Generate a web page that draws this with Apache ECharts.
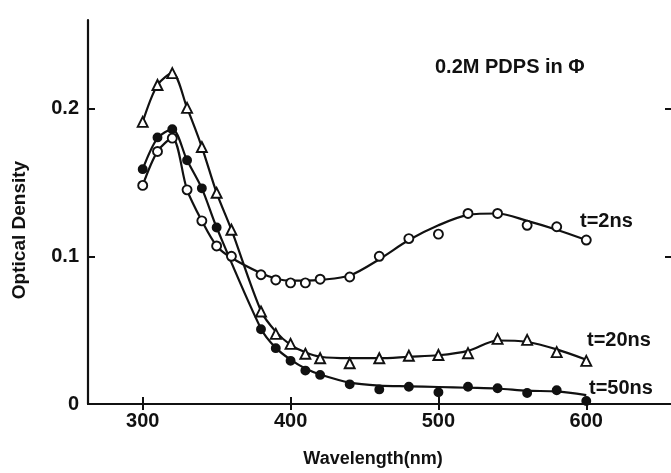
<!DOCTYPE html>
<html>
<head>
<meta charset="utf-8">
<script src="https://cdn.jsdelivr.net/npm/echarts@6/dist/echarts.min.js"></script>
<style>html,body{margin:0;padding:0;background:#fff}#c{width:671px;height:473px}</style>
</head>
<body>
<div id="c"></div>
<script>
// ---- data ----
var xTicks = [300, 400, 500, 600];
var yTicks = [0, 0.1, 0.2];

// t = 2 ns (open circles)
var wl2 = [300,310,320,330,340,350,360,380,390,400,410,420,440,460,480,500,520,540,560,580,600];
var od2 = [0.148,0.171,0.180,0.145,0.124,0.107,0.100,0.0875,0.084,0.082,0.082,0.0845,0.086,0.100,0.112,0.115,0.129,0.129,0.121,0.120,0.111];
var fit2 = [0.148,0.171,0.180,0.145,0.124,0.107,0.099,0.0885,0.085,0.0835,0.0835,0.084,0.087,0.098,0.111,0.121,0.128,0.129,0.124,0.118,0.111];

// t = 20 ns (open triangles)
var wl20 = [300,310,320,330,340,350,360,380,390,400,410,420,440,460,480,500,520,540,560,580,600];
var od20 = [0.191,0.216,0.224,0.2005,0.174,0.143,0.118,0.0626,0.0475,0.0407,0.034,0.031,0.0276,0.031,0.0327,0.0332,0.0344,0.0441,0.0434,0.0351,0.0292];
var fit20 = [0.191,0.216,0.224,0.2005,0.174,0.143,0.118,0.063,0.049,0.040,0.035,0.032,0.031,0.031,0.032,0.033,0.036,0.043,0.042,0.037,0.030];

// t = 50 ns (filled circles)
var wl50 = [300,310,320,330,340,350,380,390,400,410,420,440,460,480,500,520,540,560,580,600];
var od50 = [0.159,0.1805,0.186,0.165,0.146,0.1195,0.0506,0.0378,0.0292,0.0226,0.0197,0.0133,0.0099,0.0117,0.0079,0.0117,0.0107,0.0074,0.0093,0.002];
var fit50 = [0.159,0.180,0.186,0.165,0.146,0.1195,0.051,0.038,0.030,0.024,0.020,0.0145,0.0125,0.012,0.0115,0.011,0.0105,0.009,0.0085,0.006];

function pairs(xs, ys){ return xs.map(function(x,i){ return [x, ys[i]]; }); }

var FONT = '"Liberation Sans", Arial, Helvetica, sans-serif';
var INK = '#111';

var chart = echarts.init(document.getElementById('c'), null, {renderer:'canvas'});

function lineSeries(xs, ys){
  return {type:'line', data:pairs(xs, ys), smooth:0.3, showSymbol:false, symbol:'none',
    lineStyle:{color:INK, width:2.2}, z:2, silent:true, animation:false};
}
function pointSeries(xs, ys, symbol, fill, size){
  return {type:'scatter', data:pairs(xs, ys), symbol:symbol, symbolSize:size,
    itemStyle:{color:fill, borderColor:INK, borderWidth:1.9, opacity:1}, z:3, silent:true, animation:false};
}

chart.setOption({
  animation:false,
  backgroundColor:'#fff',
  grid:{left:88, top:20, width:587, height:384, containLabel:false, outerBoundsMode:'none'},
  xAxis:[{
    type:'value', min:263, max:660, position:'bottom',
    axisLine:{show:true, lineStyle:{color:INK, width:2.2}},
    axisTick:{show:true, inside:true, length:7, lineStyle:{color:INK, width:2}, customValues:xTicks},
    axisLabel:{show:true, customValues:xTicks, margin:7, color:INK, fontSize:20, fontWeight:'bold', fontFamily:FONT},
    splitLine:{show:false}
  },{
    type:'value', min:263, max:660, position:'top',
    axisLine:{show:true, lineStyle:{color:INK, width:2}},
    axisTick:{show:true, inside:true, length:6, lineStyle:{color:INK, width:2}, customValues:xTicks},
    axisLabel:{show:false},
    splitLine:{show:false}
  }],
  yAxis:[{
    type:'value', min:0, max:0.26, position:'left',
    axisLine:{show:true, lineStyle:{color:INK, width:2.2}},
    axisTick:{show:true, inside:true, length:7, lineStyle:{color:INK, width:2}, customValues:[0.1,0.2]},
    axisLabel:{show:true, customValues:yTicks, margin:9, color:INK, fontSize:20, fontWeight:'bold', fontFamily:FONT,
      formatter:function(v){ return v===0 ? '0' : v.toFixed(1); }},
    splitLine:{show:false}
  },{
    type:'value', min:0, max:0.26, position:'right',
    axisLine:{show:true, lineStyle:{color:INK, width:2}},
    axisTick:{show:true, inside:true, length:10, lineStyle:{color:INK, width:2}, customValues:[0.1,0.2]},
    axisLabel:{show:false},
    splitLine:{show:false}
  }],
  series:[
    lineSeries(wl2, fit2),
    lineSeries(wl20, fit20),
    lineSeries(wl50, fit50),
    pointSeries(wl2, od2, 'circle', '#fff', 9),
    pointSeries(wl20, od20, 'triangle', '#fff', 10),
    pointSeries(wl50, od50, 'circle', INK, 8)
  ],
  graphic:[
    {type:'text', left:435, top:57, style:{text:'0.2M PDPS in \u03A6', fill:INK, font:'bold 20px '+FONT}},
    {type:'text', left:580, top:211, style:{text:'t=2ns', fill:INK, font:'bold 20px '+FONT}},
    {type:'text', left:587, top:330, style:{text:'t=20ns', fill:INK, font:'bold 20px '+FONT}},
    {type:'text', left:589, top:378, style:{text:'t=50ns', fill:INK, font:'bold 20px '+FONT}},
    {type:'text', x:373, y:459, style:{text:'Wavelength(nm)', fill:INK, font:'bold 18px '+FONT, align:'center', verticalAlign:'middle'}},
    {type:'text', x:20, y:230, rotation:Math.PI/2, style:{text:'Optical Density', fill:INK, font:'bold 19px '+FONT, align:'center', verticalAlign:'middle'}}
  ]
});
</script>
</body>
</html>
